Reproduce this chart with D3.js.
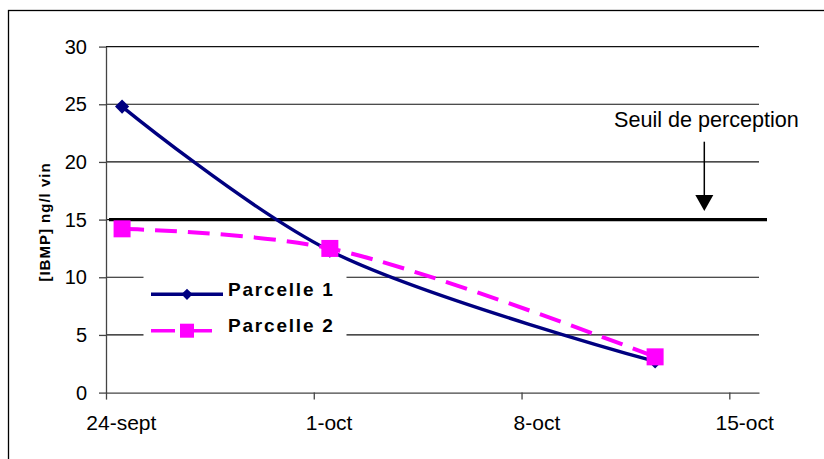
<!DOCTYPE html>
<html>
<head>
<meta charset="utf-8">
<script src="https://cdn.jsdelivr.net/npm/d3@7"></script>
<style>
  body { margin: 0; background: #fff; }
  svg { display: block; font-family: "Liberation Sans", Arial, sans-serif; }
</style>
</head>
<body>
<div id="graph"></div>
<script>
// values
const dates = ["2008-09-24 13:00", "2008-10-01 13:00", "2008-10-12 12:00"];
const parcelle1 = [24.8, 12.3, 2.7];
const parcelle2 = [14.2, 12.5, 3.1];
const seuil = 15;
const yTicks = [0, 5, 10, 15, 20, 25, 30];
const xTickDates = ["2008-09-24 00:00", "2008-10-01 00:00", "2008-10-08 00:00", "2008-10-15 00:00"];
const xTickLabels = ["24-sept", "1-oct", "8-oct", "15-oct"];
const xDomain = ["2008-09-24 00:00", "2008-10-16 00:00"];
const seriesNames = ["Parcelle 1", "Parcelle 2"];

const parse = d3.timeParse("%Y-%m-%d %H:%M");
const width = 824, height = 459;

const svg = d3.select("#graph").append("svg")
              .attr("width", width)
              .attr("height", height);

// outer frame (only left and top edges fall inside the picture)
svg.append("rect")
   .attr("x", 8.5).attr("y", 10.5)
   .attr("width", 840).attr("height", 480)
   .attr("fill", "none").attr("stroke", "#000").attr("stroke-width", 1.3);

const x = d3.scaleTime().domain(xDomain.map(parse)).range([106, 759]);
const y = d3.scaleLinear().domain([0, 30]).range([392.6, 46.6]);

// gridlines
svg.append("g")
   .selectAll("line")
   .data(yTicks.filter(d => d > 0))
   .join("line")
   .attr("x1", x.range()[0]).attr("x2", x.range()[1])
   .attr("y1", d => y(d)).attr("y2", d => y(d))
   .attr("stroke", "#111").attr("stroke-width", 1.2);

// axes
const leftAxis = svg.append("g").attr("transform", `translate(${x.range()[0]},0)`);
leftAxis.call(d3.axisLeft(y).tickValues(yTicks).tickSize(7).tickSizeOuter(0).tickPadding(12));
leftAxis.selectAll("text").attr("font-size", 20).attr("fill", "#000").attr("font-family", null);

const tickMap = new Map(xTickDates.map((d, i) => [+parse(d), xTickLabels[i]]));
const halfDay = x(d3.timeHour.offset(parse(xTickDates[0]), 12)) - x(parse(xTickDates[0]));
const bottomAxis = svg.append("g").attr("transform", `translate(0,${y(0)})`);
bottomAxis.call(d3.axisBottom(x).tickValues(xTickDates.map(parse))
                  .tickFormat(d => tickMap.get(+d))
                  .tickSize(7).tickSizeOuter(0).tickPadding(15.5));
bottomAxis.selectAll("text").attr("font-size", 21).attr("fill", "#000")
          .attr("font-family", null).attr("x", halfDay);

svg.selectAll(".domain, .tick line").attr("stroke", "#444").attr("stroke-width", 1.3);

// y axis title
svg.append("text")
   .attr("transform", `translate(50,222) rotate(-90)`)
   .attr("text-anchor", "middle")
   .attr("font-size", 15).attr("font-weight", "bold")
   .attr("letter-spacing", 1)
   .text("[IBMP] ng/l vin");

// threshold line
svg.append("line")
   .attr("x1", x.range()[0] + 3).attr("x2", x.range()[1] + 8)
   .attr("y1", y(seuil)).attr("y2", y(seuil))
   .attr("stroke", "#000").attr("stroke-width", 3.2);

// series
const data1 = dates.map((d, i) => ({ date: parse(d), v: parcelle1[i] }));
const data2 = dates.map((d, i) => ({ date: parse(d), v: parcelle2[i] }));
const line = d3.line().x(d => x(d.date)).y(d => y(d.v)).curve(d3.curveCatmullRom.alpha(0.5));

svg.append("path").datum(data1)
   .attr("d", line).attr("fill", "none")
   .attr("stroke", "#000080").attr("stroke-width", 3.4);
svg.append("g").selectAll("path").data(data1).join("path")
   .attr("d", d3.symbol(d3.symbolDiamond2, 128))
   .attr("transform", d => `translate(${x(d.date)},${y(d.v)})`)
   .attr("fill", "#000080");

svg.append("path").datum(data2)
   .attr("d", line).attr("fill", "none")
   .attr("stroke", "#FF00FF").attr("stroke-width", 4)
   .attr("stroke-dasharray", "22,11");
svg.append("g").selectAll("rect").data(data2).join("rect")
   .attr("x", d => x(d.date) - 8.5).attr("y", d => y(d.v) - 8.5)
   .attr("width", 17).attr("height", 17)
   .attr("fill", "#FF00FF");

// legend
const legend = svg.append("g");
legend.append("rect")
      .attr("x", 143.5).attr("y", 268).attr("width", 203).attr("height", 76)
      .attr("fill", "#fff");
const legendRows = [
  { name: seriesNames[0], y: 294.3, color: "#000080", dash: null, marker: "diamond" },
  { name: seriesNames[1], y: 330.7, color: "#FF00FF", dash: "24,5,32,20", marker: "square" }
];
legendRows.forEach(r => {
  legend.append("line")
        .attr("x1", 151).attr("x2", 223).attr("y1", r.y).attr("y2", r.y)
        .attr("stroke", r.color).attr("stroke-width", 3.4)
        .attr("stroke-dasharray", r.dash);
  if (r.marker === "diamond") {
    legend.append("path")
          .attr("d", d3.symbol(d3.symbolDiamond2, 80))
          .attr("transform", `translate(187,${r.y})`)
          .attr("fill", r.color);
  } else {
    legend.append("rect")
          .attr("x", 180).attr("y", r.y - 7).attr("width", 14).attr("height", 14)
          .attr("fill", r.color);
  }
  legend.append("text")
        .attr("x", 228).attr("y", r.y + 1.5)
        .attr("font-size", 19).attr("font-weight", "bold")
        .attr("letter-spacing", 1.8)
        .text(r.name);
});

// annotation
svg.append("text")
   .attr("x", 614).attr("y", 126.5)
   .attr("font-size", 21.6)
   .text("Seuil de perception");
svg.append("line")
   .attr("x1", 704.3).attr("x2", 704.3).attr("y1", 141.7).attr("y2", 197)
   .attr("stroke", "#000").attr("stroke-width", 1.5);
svg.append("path")
   .attr("d", "M695.3,195L713.3,195L704.3,211Z")
   .attr("fill", "#000");
</script>
</body>
</html>
